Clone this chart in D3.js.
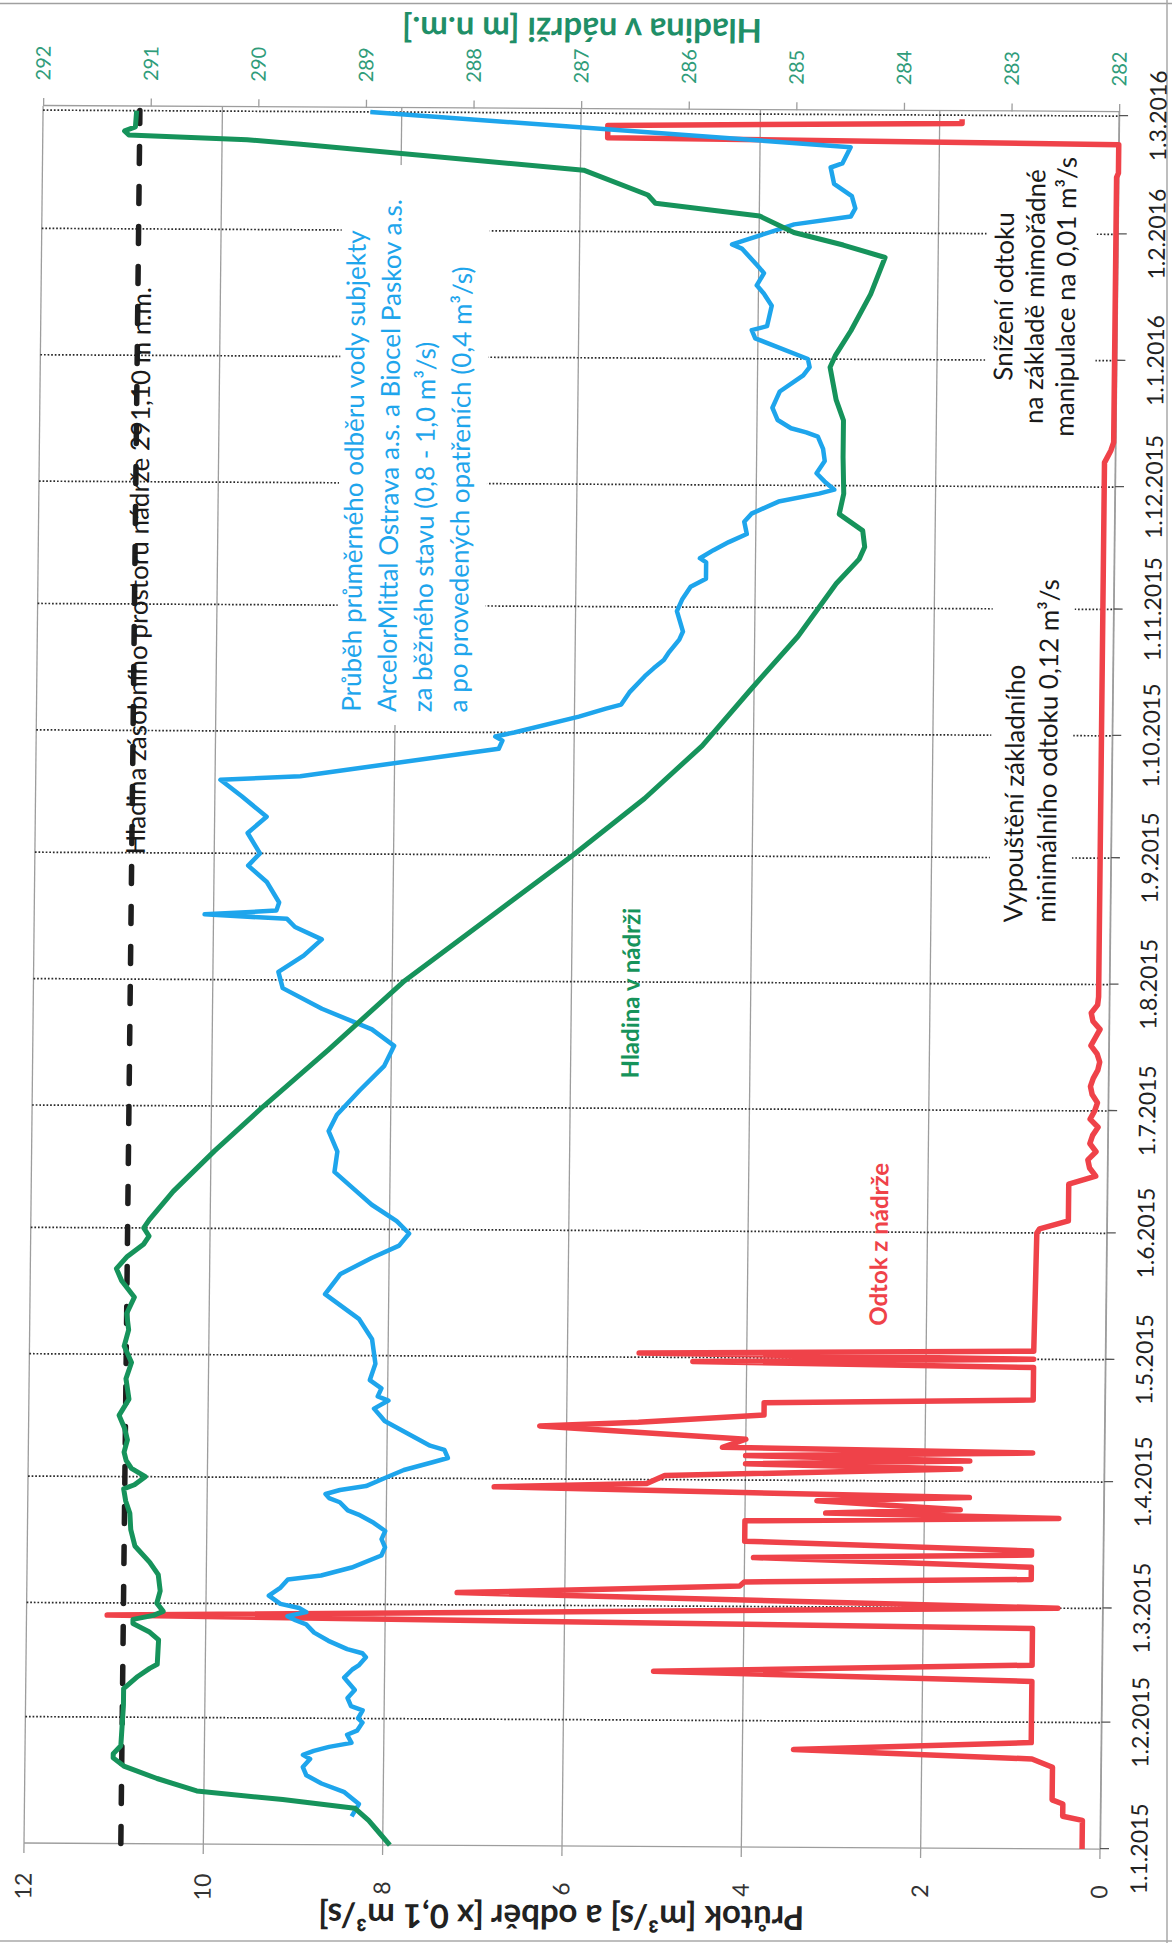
<!DOCTYPE html>
<html lang="cs">
<head>
<meta charset="utf-8">
<title>Hladina v nádrži, odtok a odběr vody</title>
<script src="https://cdn.jsdelivr.net/npm/d3@7/dist/d3.min.js"></script>
<style>
  html, body { margin: 0; padding: 0; background: #fff; }
  svg { display: block; }
  text { font-family: Lato, "Open Sans", "DejaVu Sans", sans-serif; }
</style>
</head>
<body>
<svg id="chart" width="1172" height="1943"></svg>
<script>
// ---- axis ticks ----
const monthTicks = ["2015-01-01","2015-02-01","2015-03-01","2015-04-01","2015-05-01","2015-06-01",
  "2015-07-01","2015-08-01","2015-09-01","2015-10-01","2015-11-01","2015-12-01",
  "2016-01-01","2016-02-01","2016-03-01"];
const flowTicks = [0, 2, 4, 6, 8, 10, 12];
const levelTicks = [282, 283, 284, 285, 286, 287, 288, 289, 290, 291, 292];
const storageLevel = 291.10;

// ---- water level in the reservoir [m n.m.] ----
const level = [
  ["2015-01-01",288.6],["2015-01-04",288.7],["2015-01-07",288.8],["2015-01-10",288.93],["2015-01-12",289.6],
  ["2015-01-14",290.4],["2015-01-17",290.77],["2015-01-20",291.08],["2015-01-22",291.18],["2015-01-23",291.18],
  ["2015-01-25",291.11],["2015-02-04",291.09],["2015-02-08",291.09],["2015-02-11",290.96],["2015-02-13",290.85],
  ["2015-02-14",290.78],["2015-02-20",290.77],["2015-02-22",290.86],["2015-02-24",291.01],["2015-02-25",291.01],
  ["2015-02-26",290.82],["2015-02-27",290.73],["2015-03-01",290.79],["2015-03-04",290.76],["2015-03-08",290.78],
  ["2015-03-11",290.86],["2015-03-15",291.0],["2015-03-19",291.04],["2015-03-23",291.05],["2015-03-26",291.09],
  ["2015-03-29",291.11],["2015-03-30",291.01],["2015-04-01",290.91],["2015-04-03",291.04],["2015-04-05",291.09],
  ["2015-04-07",291.11],["2015-04-10",291.08],["2015-04-13",291.11],["2015-04-16",291.16],["2015-04-20",291.07],
  ["2015-04-25",291.1],["2015-04-29",291.05],["2015-05-03",291.12],["2015-05-07",291.08],["2015-05-11",291.1],
  ["2015-05-15",291.03],["2015-05-19",291.15],["2015-05-22",291.2],["2015-05-25",291.1],["2015-05-28",290.95],
  ["2015-05-30",290.9],["2015-06-01",290.95],["2015-06-03",290.9],["2015-06-10",290.68],["2015-06-20",290.3],
  ["2015-07-01",289.85],["2015-07-15",289.25],["2015-08-01",288.55],["2015-08-17",287.75],["2015-09-01",287.0],
  ["2015-09-15",286.34],["2015-09-28",285.81],["2015-10-12",285.36],["2015-10-25",284.93],["2015-11-07",284.58],
  ["2015-11-13",284.37],["2015-11-16",284.32],["2015-11-20",284.34],["2015-11-24",284.56],["2015-11-29",284.52],
  ["2015-12-08",284.53],["2015-12-17",284.53],["2015-12-22",284.6],["2015-12-30",284.66],["2016-01-02",284.61],
  ["2016-01-08",284.47],["2016-01-17",284.29],["2016-01-26",284.16],["2016-01-29",284.55],["2016-02-01",285.01],
  ["2016-02-05",285.33],["2016-02-08",286.3],["2016-02-10",286.37],["2016-02-16",286.97],["2016-02-22",289.6],
  ["2016-02-23",290.1],["2016-02-24",291.2],["2016-02-25",291.24],["2016-02-26",291.14],["2016-03-01",291.13]
];

// ---- average water withdrawal [x 0,1 m3/s] ----
const withdrawal = [
  ["2015-01-08",8.35],["2015-01-11",8.27],["2015-01-14",8.44],["2015-01-16",8.69],["2015-01-18",8.86],
  ["2015-01-20",8.9],["2015-01-22",8.82],["2015-01-23",8.9],["2015-01-24",8.78],["2015-01-25",8.61],
  ["2015-01-26",8.36],["2015-01-28",8.41],["2015-01-29",8.3],["2015-01-31",8.24],["2015-02-01",8.29],
  ["2015-02-03",8.24],["2015-02-04",8.37],["2015-02-06",8.41],["2015-02-08",8.33],["2015-02-10",8.41],
  ["2015-02-11",8.45],["2015-02-13",8.36],["2015-02-14",8.29],["2015-02-16",8.21],["2015-02-17",8.25],
  ["2015-02-18",8.42],["2015-02-20",8.63],["2015-02-22",8.79],["2015-02-24",8.88],["2015-02-25",9.0],
  ["2015-02-26",9.09],["2015-02-27",8.88],["2015-02-28",8.96],["2015-03-01",9.17],["2015-03-03",9.3],
  ["2015-03-05",9.17],["2015-03-07",9.09],["2015-03-08",8.72],["2015-03-09",8.55],["2015-03-10",8.38],
  ["2015-03-13",8.05],["2015-03-15",8.01],["2015-03-17",8.05],["2015-03-19",8.01],["2015-03-21",8.14],
  ["2015-03-23",8.31],["2015-03-24",8.43],["2015-03-26",8.52],["2015-03-27",8.64],["2015-03-28",8.68],
  ["2015-03-29",8.52],["2015-03-30",8.23],["2015-04-01",8.02],["2015-04-03",7.81],["2015-04-05",7.48],
  ["2015-04-06",7.32],["2015-04-08",7.36],["2015-04-09",7.52],["2015-04-11",7.69],["2015-04-13",7.86],
  ["2015-04-15",8.03],["2015-04-16",8.07],["2015-04-18",8.15],["2015-04-20",7.99],["2015-04-21",8.11],
  ["2015-04-23",8.07],["2015-04-25",8.2],["2015-04-29",8.14],["2015-05-05",8.18],["2015-05-10",8.33],
  ["2015-05-16",8.71],["2015-05-21",8.54],["2015-05-25",8.19],["2015-05-28",7.89],["2015-05-31",7.78],
  ["2015-06-03",7.92],["2015-06-07",8.2],["2015-06-11",8.41],["2015-06-15",8.62],["2015-06-20",8.59],
  ["2015-06-25",8.69],["2015-06-29",8.6],["2015-07-05",8.35],["2015-07-11",8.08],["2015-07-16",7.97],
  ["2015-07-20",8.22],["2015-07-25",8.78],["2015-07-30",9.22],["2015-08-03",9.27],["2015-08-07",8.99],
  ["2015-08-11",8.79],["2015-08-14",9.09],["2015-08-16",9.18],["2015-08-17",10.1],["2015-08-18",9.3],
  ["2015-08-20",9.27],["2015-08-25",9.41],["2015-08-29",9.62],["2015-09-01",9.49],["2015-09-06",9.63],
  ["2015-09-10",9.42],["2015-09-15",9.7],["2015-09-19",9.94],["2015-09-20",9.05],["2015-09-27",6.84],
  ["2015-09-29",6.8],["2015-09-30",6.88],["2015-10-01",6.67],["2015-10-05",5.95],["2015-10-07",5.65],
  ["2015-10-08",5.48],["2015-10-11",5.39],["2015-10-15",5.22],["2015-10-17",5.12],["2015-10-19",5.01],
  ["2015-10-21",4.95],["2015-10-24",4.84],["2015-10-26",4.8],["2015-10-31",4.87],["2015-11-03",4.81],
  ["2015-11-06",4.72],["2015-11-08",4.55],["2015-11-10",4.55],["2015-11-12",4.55],["2015-11-13",4.62],
  ["2015-11-15",4.47],["2015-11-17",4.3],["2015-11-19",4.1],["2015-11-22",4.13],["2015-11-24",4.05],
  ["2015-11-27",3.75],["2015-11-29",3.3],["2015-11-30",3.13],["2015-12-02",3.24],["2015-12-04",3.33],
  ["2015-12-07",3.24],["2015-12-10",3.26],["2015-12-13",3.32],["2015-12-14",3.45],["2015-12-15",3.62],
  ["2015-12-17",3.77],["2015-12-20",3.83],["2015-12-22",3.79],["2015-12-24",3.75],["2015-12-28",3.49],
  ["2015-12-30",3.42],["2016-01-01",3.44],["2016-01-06",4.03],["2016-01-08",4.07],["2016-01-09",3.9],
  ["2016-01-14",3.85],["2016-01-17",3.94],["2016-01-19",4.02],["2016-01-22",3.94],["2016-01-24",4.02],
  ["2016-01-28",4.19],["2016-01-29",4.3],["2016-02-03",3.61],["2016-02-05",2.98],["2016-02-07",2.93],
  ["2016-02-10",2.97],["2016-02-13",3.17],["2016-02-17",3.21],["2016-02-18",3.08],["2016-02-22",2.99],
  ["2016-03-01",8.35]
];

// ---- outflow from the reservoir [m3/s] ----
const outflow = [
  ["2015-01-01",0.2],["2015-01-08",0.2],["2015-01-09",0.42],["2015-01-12",0.42],["2015-01-13",0.54],
  ["2015-01-21",0.54],["2015-01-23",0.77],["2015-01-25",3.43],["2015-01-27",0.78],["2015-02-11",0.78],
  ["2015-02-13",5.0],["2015-02-15",0.78],["2015-02-24",0.78],["2015-02-26",11.1],["2015-03-01",0.5],
  ["2015-03-04",7.2],["2015-03-06",4.05],["2015-03-07",4.0],["2015-03-08",0.8],["2015-03-11",0.8],
  ["2015-03-13",3.9],["2015-03-14",0.8],["2015-03-15",0.8],["2015-03-17",4.0],["2015-03-22",4.0],
  ["2015-03-23",0.5],["2015-03-24",3.1],["2015-03-25",1.6],["2015-03-27",3.2],["2015-03-28",1.5],
  ["2015-03-30",6.8],["2015-03-31",5.1],["2015-04-02",4.9],["2015-04-04",1.6],["2015-04-05",4.0],
  ["2015-04-06",1.5],["2015-04-07",4.0],["2015-04-08",0.8],["2015-04-09",4.26],["2015-04-11",4.0],
  ["2015-04-14",6.3],["2015-04-15",5.2],["2015-04-17",3.8],["2015-04-20",3.8],["2015-04-21",0.8],
  ["2015-04-29",0.8],["2015-04-30",4.6],["2015-05-01",0.8],["2015-05-02",5.2],["2015-05-03",0.8],
  ["2015-06-01",0.78],["2015-06-02",0.75],["2015-06-04",0.43],["2015-06-13",0.43],["2015-06-15",0.13],
  ["2015-06-17",0.2],["2015-06-19",0.22],["2015-06-21",0.13],["2015-06-23",0.2],["2015-06-25",0.17],
  ["2015-06-27",0.11],["2015-06-29",0.2],["2015-07-01",0.15],["2015-07-03",0.12],["2015-07-05",0.18],
  ["2015-07-07",0.2],["2015-07-09",0.17],["2015-07-11",0.12],["2015-07-13",0.1],["2015-07-15",0.13],
  ["2015-07-17",0.2],["2015-07-19",0.15],["2015-07-21",0.1],["2015-07-23",0.18],["2015-07-25",0.2],
  ["2015-07-27",0.13],["2015-07-29",0.12],["2015-12-07",0.12],["2015-12-10",0.05],["2015-12-12",0.02],
  ["2016-02-15",0.02],["2016-02-16",0.0],["2016-02-23",0.0],["2016-02-24",5.7],["2016-02-27",5.7],
  ["2016-02-28",1.75],["2016-02-29",1.75]
];

// ---- text notes ----
const storageNote = "Hladina zásobního prostoru nádrže 291,10 m n.m.";
const withdrawalNote = ["Průběh průměrného odběru  vody subjekty",
  "ArcelorMittal Ostrava a.s. a Biocel Paskov a.s.",
  "za běžného stavu (0,8 - 1,0 m³/s)",
  "a  po provedených opatřeních (0,4 m³/s)"];
const minimumNote = ["Vypouštění základního", "minimálního odtoku 0,12 m³/s"];
const reductionNote = ["Snížení odtoku", "na základě mimořádné", "manipulace na 0,01 m³/s"];

// ---- layout ----
const W = 1737, H = 1076;              // plot size in chart coordinates
const parse = d3.utcParse("%Y-%m-%d");
const fmt = d3.utcFormat("%-d.%-m.%Y");
const x = d3.scaleUtc().domain([parse("2015-01-01"), parse("2016-03-02")]).range([0, W]);
const yFlow = d3.scaleLinear().domain([0, 12]).range([H, 0]);
const yLevel = d3.scaleLinear().domain([282, 292]).range([H, 0]);

const svg = d3.select("#chart");
svg.append("rect").attr("width", 1172).attr("height", 1943).attr("fill", "#fff");

// sheet edges
svg.append("line").attr("x1", 0).attr("x2", 1172).attr("y1", 3.5).attr("y2", 3.5)
  .attr("stroke", "#a0a0a0").attr("stroke-width", 1.5);
svg.append("line").attr("x1", 1167).attr("x2", 1167).attr("y1", 0).attr("y2", 1943)
  .attr("stroke", "#a8a8a8").attr("stroke-width", 1.5);
svg.append("line").attr("x1", 0).attr("x2", 1172).attr("y1", 1941).attr("y2", 1941)
  .attr("stroke", "#a8a8a8").attr("stroke-width", 1.5);

// the chart is laid out landscape and turned onto the portrait sheet
const g = svg.append("g").attr("transform", "matrix(0.011,-1,1,0.0056,24,1843)");

// value gridlines (flow axis)
g.append("g").selectAll("line").data(flowTicks).join("line")
  .attr("x1", -10).attr("x2", W).attr("y1", d => yFlow(d)).attr("y2", d => yFlow(d))
  .attr("stroke", "#9d9d9d").attr("stroke-width", 1.3);

// month gridlines
const months = monthTicks.map(parse);
g.append("g").selectAll("line").data(months.slice(1)).join("line")
  .attr("x1", d => x(d)).attr("x2", d => x(d)).attr("y1", 0).attr("y2", H)
  .attr("stroke", "#2a2a2a").attr("stroke-width", 1.7).attr("stroke-dasharray", "1.7,1.9");

// axis lines
g.append("line").attr("x1", 0).attr("x2", 0).attr("y1", 0).attr("y2", H)
  .attr("stroke", "#9d9d9d").attr("stroke-width", 1.3);

// date axis
const xAxis = g.append("g").attr("transform", `translate(0,${H})`)
  .call(d3.axisBottom(x).tickValues(months).tickFormat(fmt).tickSize(9).tickSizeOuter(0).tickPadding(22));
xAxis.select(".domain").attr("stroke", "#9d9d9d").attr("stroke-width", 1.3);
xAxis.selectAll(".tick line").attr("stroke", "#555").attr("stroke-width", 1.3);
xAxis.selectAll(".tick text").attr("font-size", 23).attr("fill", "#222");

// flow axis labels
const flowAxis = g.append("g")
  .call(d3.axisLeft(yFlow).tickValues(flowTicks).tickSize(0).tickPadding(0));
flowAxis.select(".domain").remove();
flowAxis.selectAll(".tick text").attr("x", -43).attr("text-anchor", "middle")
  .attr("font-size", 23).attr("fill", "#333");

// level axis (secondary)
const levelAxis = g.append("g").attr("transform", `translate(${W},0)`)
  .call(d3.axisRight(yLevel).tickValues(levelTicks).tickSize(8).tickSizeOuter(0).tickPadding(0));
levelAxis.select(".domain").attr("stroke", "#9d9d9d").attr("stroke-width", 1.3);
levelAxis.selectAll(".tick line").attr("stroke", "#9d9d9d").attr("stroke-width", 1.3);
levelAxis.selectAll(".tick text").attr("x", 43).attr("text-anchor", "middle")
  .attr("font-size", 20).attr("fill", "#2f9c7a");

// axis titles
g.append("text").attr("transform", `translate(-72,${H / 2}) rotate(-90)`)
  .attr("text-anchor", "middle").attr("dominant-baseline", "central")
  .attr("font-size", 33).attr("font-weight", 700).attr("fill", "#222")
  .text("Průtok [m³/s] a odběr [x 0,1 m³/s]");
g.append("text").attr("transform", `translate(${W + 78},${H / 2}) rotate(-90)`)
  .attr("text-anchor", "middle").attr("dominant-baseline", "central")
  .attr("font-size", 33).attr("font-weight", 700).attr("fill", "#1f8f68")
  .text("Hladina v nádrži [m n.m.]");

// white note boxes sitting over the grid
const boxes = [[1120, 300, 560, 148], [905, 955, 395, 82], [1375, 945, 345, 110]];
g.append("g").selectAll("rect").data(boxes).join("rect")
  .attr("x", d => d[0]).attr("y", d => d[1]).attr("width", d => d[2]).attr("height", d => d[3])
  .attr("fill", "#fff");

// storage level reference
g.append("line").attr("x1", 0).attr("x2", x(parse("2016-03-01")))
  .attr("y1", yLevel(storageLevel)).attr("y2", yLevel(storageLevel))
  .attr("stroke", "#1e1e1e").attr("stroke-width", 5.5).attr("stroke-linecap", "round")
  .attr("stroke-dasharray", "17,23");

// series
const lineOf = (scale) => d3.line().x(d => x(parse(d[0]))).y(d => scale(d[1]));
g.append("path").datum(outflow).attr("d", lineOf(yFlow))
  .attr("fill", "none").attr("stroke", "#ef4249").attr("stroke-width", 5.5)
  .attr("stroke-linejoin", "round");
g.append("path").datum(withdrawal).attr("d", lineOf(yFlow))
  .attr("fill", "none").attr("stroke", "#1ea5ec").attr("stroke-width", 4.5)
  .attr("stroke-linejoin", "round");
g.append("path").datum(level).attr("d", lineOf(yLevel))
  .attr("fill", "none").attr("stroke", "#16935b").attr("stroke-width", 5)
  .attr("stroke-linejoin", "round");

// notes
const note = (lines, u, v0, step, opts) => {
  const t = g.append("text").attr("font-size", opts.size).attr("fill", opts.color)
    .attr("font-weight", opts.weight || 400).attr("text-anchor", opts.anchor || "start");
  lines.forEach((s, i) => t.append("tspan").attr("x", u).attr("y", v0 + i * step).text(s));
};
note([storageNote], 989, 110, 0, {size: 26, color: "#1a1a1a"});
note(withdrawalNote, 1133, 324, 35.5, {size: 26, color: "#1ea5ec"});
note(["Hladina v nádrži"], 768, 606, 0, {size: 24, color: "#16935b", weight: 700});
note(["Odtok z nádrže"], 522, 857, 0, {size: 24, color: "#ef4249", weight: 700});
note(minimumNote, 926, 988, 33, {size: 26, color: "#1a1a1a"});
note(reductionNote, 1552, 972, 31, {size: 26, color: "#1a1a1a", anchor: "middle"});
</script>
</body>
</html>
